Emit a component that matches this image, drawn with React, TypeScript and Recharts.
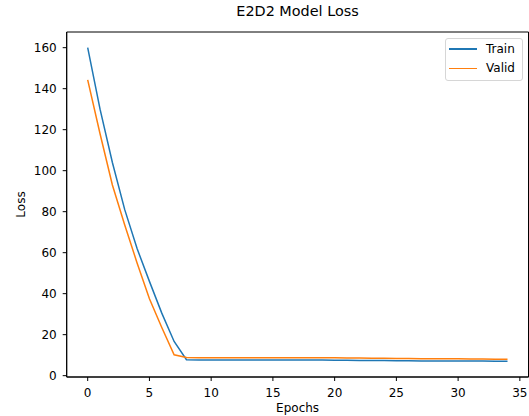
import { LineChart, Line, XAxis, YAxis, ReferenceArea } from "recharts";

const epochs = Array.from({ length: 35 }, (_, i) => i);

const trainLoss = [
  160, 130, 104, 81, 62, 46, 30.5, 16.7, 7.8, 7.7,
  7.7, 7.7, 7.7, 7.7, 7.6, 7.6, 7.6, 7.6, 7.6, 7.6,
  7.5, 7.5, 7.4, 7.4, 7.4, 7.3, 7.3, 7.2, 7.2, 7.2,
  7.1, 7.1, 7.1, 7.0, 7.0,
];

const validLoss = [
  144.3, 118, 93, 73.5, 55, 37.5, 23.5, 10.2, 8.9, 8.8,
  8.8, 8.8, 8.8, 8.8, 8.8, 8.7, 8.7, 8.7, 8.7, 8.7,
  8.7, 8.6, 8.6, 8.5, 8.5, 8.4, 8.4, 8.3, 8.3, 8.2,
  8.2, 8.1, 8.1, 8.0, 8.0,
];

const xTicks = [0, 5, 10, 15, 20, 25, 30, 35];
const yTicks = [0, 20, 40, 60, 80, 100, 120, 140, 160];

const X_DOMAIN: [number, number] = [-1.7, 35.7];
const Y_DOMAIN: [number, number] = [-0.65, 167.65];

const data = epochs.map((e, i) => ({ epoch: e, train: trainLoss[i], valid: validLoss[i] }));

const FONT = "DejaVu Sans, sans-serif";
const tickStyle = { fontSize: 12, fill: "#000", fontFamily: FONT };

const series = [
  { key: "train", name: "Train", color: "#1f77b4" },
  { key: "valid", name: "Valid", color: "#ff7f0e" },
];

function LegendBox() {
  return (
    <div
      style={{
        position: "absolute",
        top: 38,
        left: 445,
        width: 78,
        boxSizing: "border-box",
        border: "1px solid #d6d6d6",
        borderRadius: 3,
        background: "#fff",
        padding: "0px 0px 2px 3px",
        fontFamily: FONT,
        fontSize: 12,
        color: "#000",
      }}
    >
      {series.map((it) => (
        <div key={it.name} style={{ display: "flex", alignItems: "center", height: 19.5 }}>
          <span style={{ display: "inline-block", width: 28, height: 1.5, background: it.color, marginRight: 9 }} />
          <span>{it.name}</span>
        </div>
      ))}
    </div>
  );
}

export default function App() {
  return (
    <div style={{ position: "fixed", left: 0, top: 0, width: 529, height: 416, background: "#fff", overflow: "hidden" }}>
      <div
        style={{
          position: "absolute",
          top: 3,
          left: 67,
          width: 461,
          textAlign: "center",
          fontFamily: FONT,
          fontSize: 14.4,
          color: "#000",
        }}
      >
        E2D2 Model Loss
      </div>
      <LineChart width={529} height={416} data={data} margin={{ top: 32, right: 0.5, bottom: 0, left: 0 }}>
        <XAxis
          dataKey="epoch"
          type="number"
          domain={X_DOMAIN}
          ticks={xTicks}
          allowDataOverflow
          tick={tickStyle}
          tickSize={4}
          tickMargin={7}
          stroke="#000"
          height={39}
          label={{ value: "Epochs", position: "insideBottom", offset: 0, dy: -4, style: { fontSize: 12, fill: "#000", fontFamily: FONT } }}
        />
        <YAxis
          type="number"
          domain={Y_DOMAIN}
          ticks={yTicks}
          allowDataOverflow
          tick={tickStyle}
          tickSize={4}
          tickMargin={6}
          stroke="#000"
          width={66.7}
          label={{ value: "Loss", angle: -90, position: "insideLeft", offset: 21, style: { fontSize: 12, fill: "#000", fontFamily: FONT, textAnchor: "middle" } }}
        />
        <ReferenceArea
          x1={X_DOMAIN[0]}
          x2={X_DOMAIN[1]}
          y1={Y_DOMAIN[0]}
          y2={Y_DOMAIN[1]}
          fill="none"
          stroke="#000"
          strokeWidth={1}
          fillOpacity={0}
        />
        {series.map((s) => (
          <Line
            key={s.key}
            dataKey={s.key}
            name={s.name}
            stroke={s.color}
            strokeWidth={1.5}
            dot={false}
            isAnimationActive={false}
            type="linear"
          />
        ))}
      </LineChart>
      <LegendBox />
    </div>
  );
}
